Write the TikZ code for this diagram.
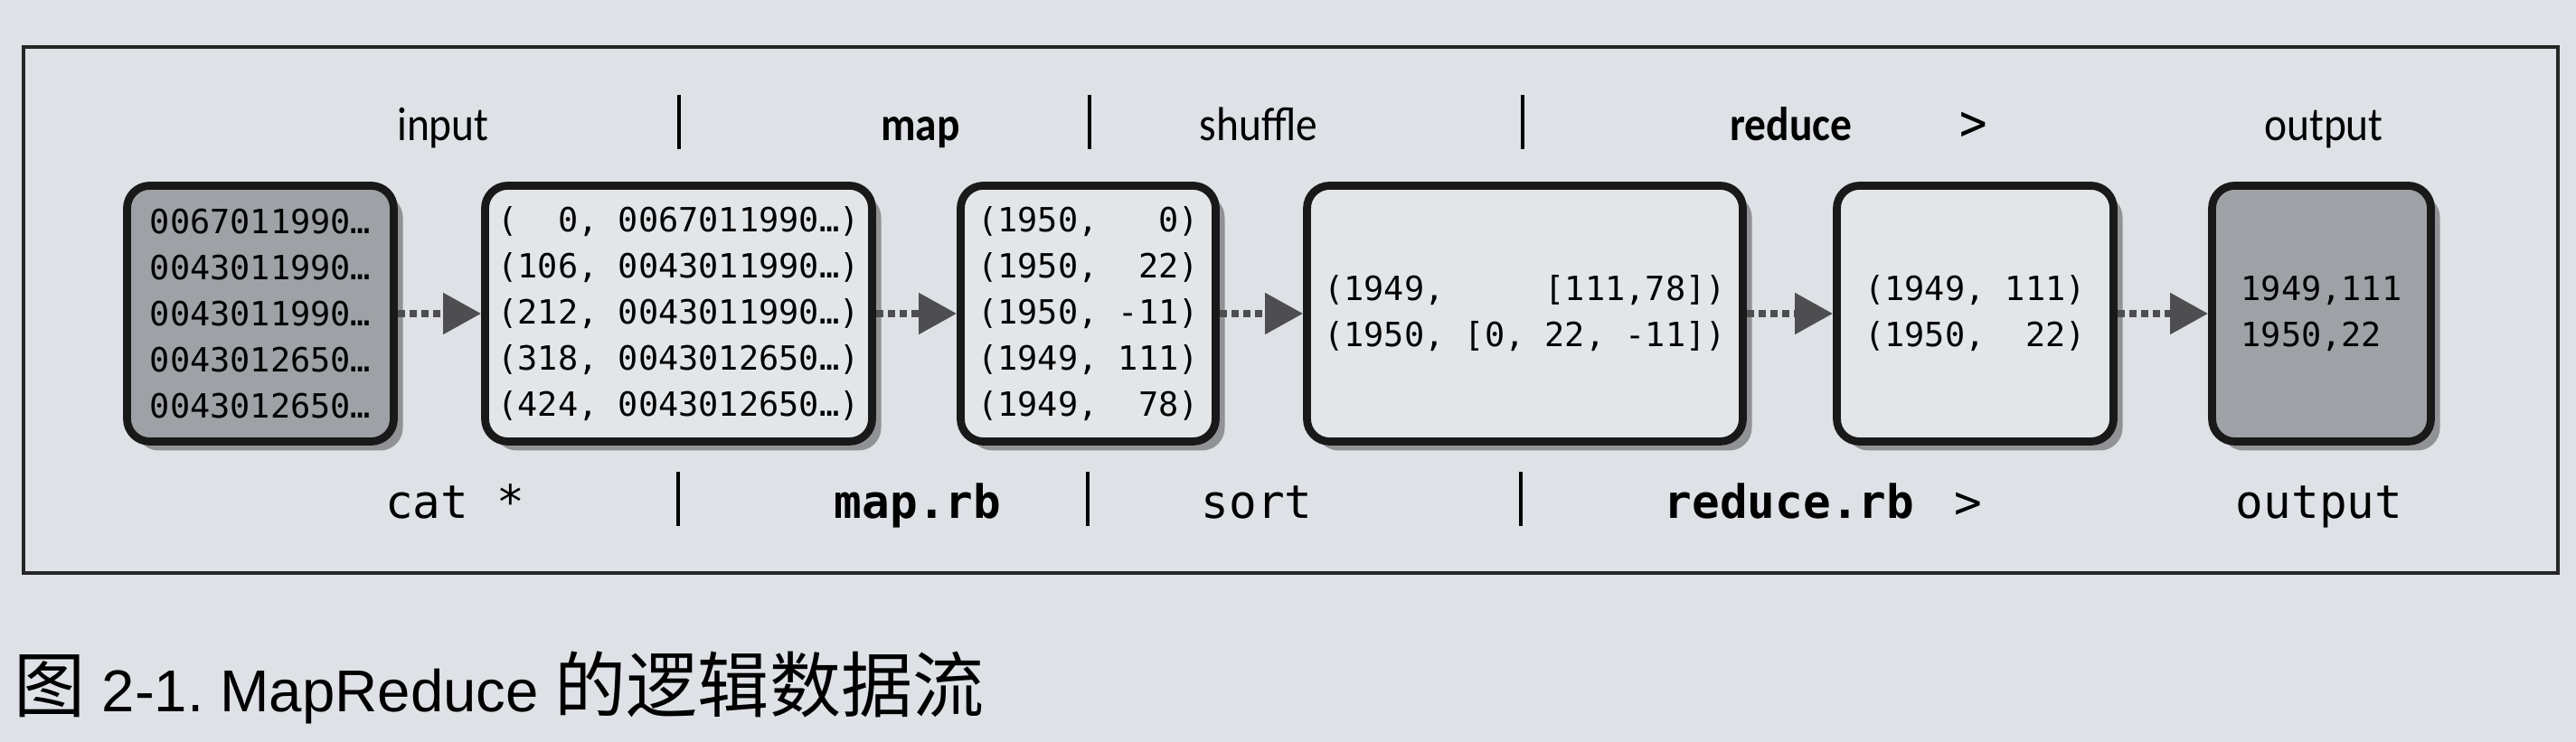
\documentclass[tikz,border=0pt]{standalone}
\usepackage{fontspec}
\setmainfont{Carlito}
\setmonofont{DejaVu Sans Mono}
\newfontfamily\capfont{Liberation Sans}
\newfontfamily\cjk{Noto Sans CJK SC}
\usetikzlibrary{arrows.meta,shadows}
\definecolor{paper}{RGB}{222,225,229}
\definecolor{boxlight}{RGB}{227,230,233}
\definecolor{boxdark}{RGB}{158,161,165}
\definecolor{flowgray}{RGB}{78,78,80}
\frenchspacing
\begin{document}
\begin{tikzpicture}[x=1cm, y=1cm,
  databox/.style={draw=black!90, line width=2.5pt, rounded corners=0.25cm, minimum height=2.83cm,
    fill=boxlight, align=left, inner sep=0pt, font=\ttfamily\fontsize{10.5}{14.5}\selectfont,
    drop shadow={shadow xshift=0.1cm, shadow yshift=-0.1cm, fill=black, opacity=0.35}},
  darkbox/.style={fill=boxdark},
  flow/.style={draw=flowgray, line width=2.3pt, dash pattern=on 0.08cm off 0.05cm,
    -{Triangle[length=0.42cm, width=0.44cm, fill=flowgray]}},
  toplbl/.style={anchor=base, inner sep=0pt, xscale=0.9, font=\fontsize{15}{18}\selectfont},
  botlbl/.style={anchor=base, inner sep=0pt, font=\ttfamily\fontsize{14.5}{17}\selectfont},
  sep/.style={line width=1.2pt}]
  % 1. 背景与外框
  \useasboundingbox (0,0) rectangle (28.49,8.21);
  \fill[paper] (0,0) rectangle (28.49,8.21);
  \draw[line width=1.1pt, black!85] (0.26,1.87) rectangle (28.29,7.69);

  % 2. 上方阶段标签 (input | map | shuffle | reduce > output)
  \node[toplbl] (t-in) at (4.90,6.65) {input};
  \node[toplbl] (t-map) at (10.18,6.65) {\bfseries map};
  \node[toplbl] (t-shuf) at (13.92,6.65) {shuffle};
  \node[toplbl] (t-red) at (19.81,6.65) {\bfseries reduce};
  \node[toplbl] (t-gt) at (21.83,6.65) {\ttfamily\fontsize{16}{18}\selectfont >};
  \node[toplbl] (t-out) at (25.70,6.65) {output};
  \draw[sep] (7.51,7.16) -- (7.51,6.56);
  \draw[sep] (12.05,7.16) -- (12.05,6.56);
  \draw[sep] (16.84,7.16) -- (16.84,6.56);

  % 3. 数据框
  \node[databox, darkbox, minimum width=2.95cm] (inp) at (2.88,4.74)
    {0067011990…\\0043011990…\\0043011990…\\0043012650…\\0043012650…};
  \node[databox, minimum width=4.28cm] (kv) at (7.505,4.74)
    {(~~0, 0067011990…)\\(106, 0043011990…)\\(212, 0043011990…)\\(318, 0043012650…)\\(424, 0043012650…)};
  \node[databox, minimum width=2.82cm] (mapout) at (12.035,4.74)
    {(1950,~~~0)\\(1950,~~22)\\(1950, -11)\\(1949, 111)\\(1949,~~78)};
  \node[databox, minimum width=4.82cm] (shuf) at (16.865,4.74)
    {(1949,~~~~~[111,78])\\(1950, [0, 22, -11])};
  \node[databox, minimum width=3.06cm] (red) at (21.845,4.74)
    {(1949, 111)\\(1950,~~22)};
  \node[databox, darkbox, minimum width=2.42cm] (out) at (25.675,4.74)
    {1949,111\\1950,22};

  % 4. 数据流箭头
  \draw[flow] (inp) -- (kv);
  \draw[flow] (kv) -- (mapout);
  \draw[flow] (mapout) -- (shuf);
  \draw[flow] (shuf) -- (red);
  \draw[flow] (red) -- (out);

  % 5. 下方命令标签 (cat * | map.rb | sort | reduce.rb > output)
  \node[botlbl] (b-cat) at (5.03,2.47) {cat *};
  \node[botlbl] (b-map) at (10.15,2.47) {\bfseries map.rb};
  \node[botlbl] (b-sort) at (13.90,2.47) {sort};
  \node[botlbl] (b-red) at (19.79,2.47) {\bfseries reduce.rb};
  \node[botlbl] (b-gt) at (21.77,2.47) {>};
  \node[botlbl] (b-out) at (25.65,2.47) {output};
  \draw[sep] (7.50,2.99) -- (7.50,2.39);
  \draw[sep] (12.03,2.99) -- (12.03,2.39);
  \draw[sep] (16.82,2.99) -- (16.82,2.39);

  % 6. 图题
  \node[anchor=base west, inner sep=0pt, font=\fontsize{22.5}{26}\selectfont] (cap) at (0.15,0.33)
    {{\cjk 图} {\capfont\fontsize{18.6}{22}\selectfont 2-1. MapReduce} {\cjk 的逻辑数据流}};
\end{tikzpicture}
\end{document}
